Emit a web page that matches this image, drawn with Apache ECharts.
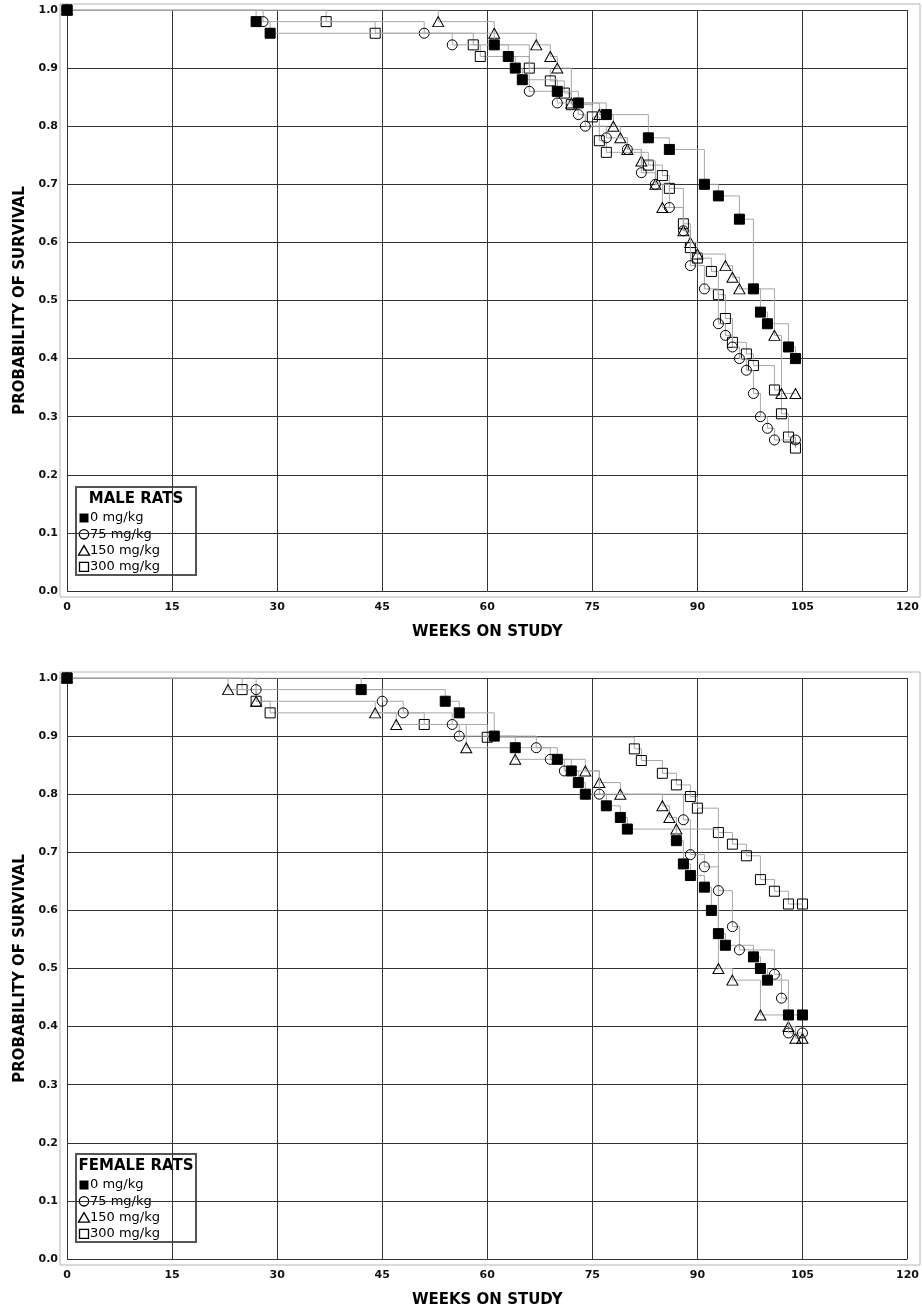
<!DOCTYPE html>
<html>
<head>
<meta charset="utf-8">
<title>Survival</title>
<script src="https://cdn.jsdelivr.net/npm/echarts@6/dist/echarts.min.js"></script>
<style>
  html, body { margin: 0; padding: 0; background: #fff; }
  #main { width: 922px; height: 1312px; }
</style>
</head>
<body>
<div id="main"></div>
<script>
// dose groups (legend order)
var doseNames = ['0 mg/kg', '75 mg/kg', '150 mg/kg', '300 mg/kg'];

// male rats: [week, probability of survival]
var male0 = [[0, 1.0], [27, 0.98], [29, 0.96], [61, 0.94], [63, 0.92], [64, 0.90], [65, 0.88], [70, 0.86], [73, 0.84], [77, 0.82], [83, 0.78], [86, 0.76], [91, 0.70], [93, 0.68], [96, 0.64], [98, 0.52], [99, 0.48], [100, 0.46], [103, 0.42], [104, 0.40]];
var male75 = [[0, 1.0], [28, 0.98], [51, 0.96], [55, 0.94], [66, 0.86], [70, 0.84], [73, 0.82], [74, 0.80], [77, 0.78], [80, 0.76], [82, 0.72], [84, 0.70], [86, 0.66], [88, 0.62], [89, 0.56], [91, 0.52], [93, 0.46], [94, 0.44], [95, 0.42], [96, 0.40], [97, 0.38], [98, 0.34], [99, 0.30], [100, 0.28], [101, 0.26], [104, 0.26]];
var male150 = [[0, 1.0], [53, 0.98], [61, 0.96], [67, 0.94], [69, 0.92], [70, 0.90], [72, 0.84], [76, 0.82], [78, 0.80], [79, 0.78], [80, 0.76], [82, 0.74], [84, 0.70], [85, 0.66], [88, 0.62], [89, 0.60], [90, 0.58], [94, 0.56], [95, 0.54], [96, 0.52], [101, 0.44], [102, 0.34], [104, 0.34]];
var male300 = [[0, 1.0], [37, 0.98], [44, 0.96], [58, 0.94], [59, 0.92], [66, 0.90], [69, 0.878], [71, 0.857], [72, 0.837], [75, 0.816], [76, 0.775], [77, 0.755], [83, 0.733], [85, 0.715], [86, 0.693], [88, 0.632], [89, 0.591], [90, 0.573], [92, 0.55], [93, 0.51], [94, 0.469], [95, 0.428], [97, 0.408], [98, 0.388], [101, 0.346], [102, 0.305], [103, 0.265], [104, 0.246]];

// female rats
var female0 = [[0, 1.0], [42, 0.98], [54, 0.96], [56, 0.94], [61, 0.90], [64, 0.88], [70, 0.86], [72, 0.84], [73, 0.82], [74, 0.80], [77, 0.78], [79, 0.76], [80, 0.74], [87, 0.72], [88, 0.68], [89, 0.66], [91, 0.64], [92, 0.60], [93, 0.56], [94, 0.54], [98, 0.52], [99, 0.50], [100, 0.48], [103, 0.42], [105, 0.42]];
var female75 = [[0, 1.0], [27, 0.98], [45, 0.96], [48, 0.94], [55, 0.92], [56, 0.90], [67, 0.88], [69, 0.86], [71, 0.84], [76, 0.80], [88, 0.756], [89, 0.696], [91, 0.675], [93, 0.634], [95, 0.572], [96, 0.532], [101, 0.49], [102, 0.449], [103, 0.389], [105, 0.389]];
var female150 = [[0, 1.0], [23, 0.98], [27, 0.96], [44, 0.94], [47, 0.92], [57, 0.88], [64, 0.86], [74, 0.84], [76, 0.82], [79, 0.80], [85, 0.78], [86, 0.76], [87, 0.74], [93, 0.50], [95, 0.48], [99, 0.42], [103, 0.40], [104, 0.38], [105, 0.38]];
var female300 = [[0, 1.0], [25, 0.98], [27, 0.96], [29, 0.94], [51, 0.92], [60, 0.898], [81, 0.878], [82, 0.858], [85, 0.836], [87, 0.816], [89, 0.796], [90, 0.776], [93, 0.734], [95, 0.714], [97, 0.694], [99, 0.653], [101, 0.633], [103, 0.611], [105, 0.611]];

var maleData = [male0, male75, male150, male300];
var femaleData = [female0, female75, female150, female300];

window.onload = function () {
    var myChart = echarts.init(document.getElementById('main'), null, { renderer: 'canvas' });

    var font = 'DejaVu Sans';
    // marker per dose: filled square, open circle, open triangle, open square
    var symbols = ['rect', 'circle', 'triangle', 'rect'];
    var symSizes = [10, 10, [11, 10], 10];
    var fills = ['#000', 'rgba(255,255,255,0)', 'rgba(255,255,255,0)', 'rgba(255,255,255,0)'];

    var plotTops = [10, 678];
    var plotH = 581;

    function xAxisFor(i) {
        return {
            gridIndex: i, type: 'value', min: 0, max: 120, interval: 15,
            axisLine: { show: false }, axisTick: { show: false },
            splitLine: { show: true, lineStyle: { color: '#333', width: 1 } },
            axisLabel: { fontFamily: font, fontWeight: 'bold', fontSize: 11, color: '#111', margin: 11 },
            name: 'WEEKS ON STUDY', nameLocation: 'middle', nameGap: 34,
            nameTextStyle: { fontFamily: font, fontWeight: 'bold', fontSize: 15, color: '#000' }
        };
    }
    function yAxisFor(i) {
        return {
            gridIndex: i, type: 'value', min: 0, max: 1, interval: 0.1,
            axisLine: { show: false }, axisTick: { show: false },
            splitLine: { show: true, lineStyle: { color: '#333', width: 1 } },
            axisLabel: {
                fontFamily: font, fontWeight: 'bold', fontSize: 11, color: '#111', margin: 9,
                formatter: function (v) { return v.toFixed(1); }
            },
            name: 'PROBABILITY OF SURVIVAL', nameLocation: 'middle', nameGap: 37,
            nameTextStyle: { fontFamily: font, fontWeight: 'bold', fontSize: 15, color: '#000' }
        };
    }

    var series = [];
    [maleData, femaleData].forEach(function (groups, gi) {
        // draw the control group last so its filled squares sit on top
        [3, 2, 1, 0].forEach(function (k) {
            series.push({
                name: doseNames[k],
                type: 'line',
                step: 'end',
                xAxisIndex: gi, yAxisIndex: gi,
                data: groups[k],
                symbol: symbols[k],
                symbolSize: symSizes[k],
                showAllSymbol: true,
                lineStyle: { color: '#a8a8a8', width: 1 },
                itemStyle: { color: fills[k], borderColor: '#000', borderWidth: 1 },
                emphasis: { disabled: true },
                z: 3 + (3 - k)
            });
        });
    });

    // legend box drawn as graphic, one per panel
    function legendBox(title, top) {
        var left = 76, ys = [31, 47.3, 63.6, 79.8];
        var children = [{
            type: 'rect', shape: { x: left, y: top, width: 120, height: 88 },
            style: { fill: '#fff', stroke: '#555', lineWidth: 2 }
        }, {
            type: 'text', x: left + 60, y: top + 12,
            style: { text: title, font: 'bold 15px "DejaVu Sans"', fill: '#000', align: 'center', verticalAlign: 'middle' }
        }];
        var cx = left + 8;
        ys.forEach(function (dy, k) {
            var cy = top + dy;
            if (k === 0) {
                children.push({ type: 'rect', shape: { x: cx - 4.5, y: cy - 4.5, width: 9, height: 9 }, style: { fill: '#000' } });
            } else if (k === 1) {
                children.push({ type: 'circle', shape: { cx: cx, cy: cy, r: 4.7 }, style: { fill: 'none', stroke: '#000', lineWidth: 1.3 } });
            } else if (k === 2) {
                children.push({ type: 'polygon', shape: { points: [[cx, cy - 5], [cx + 5.5, cy + 4.5], [cx - 5.5, cy + 4.5]] }, style: { fill: 'none', stroke: '#000', lineWidth: 1.3 } });
            } else {
                children.push({ type: 'rect', shape: { x: cx - 4.5, y: cy - 4.5, width: 9, height: 9 }, style: { fill: 'none', stroke: '#000', lineWidth: 1.3 } });
            }
            children.push({
                type: 'text', x: cx + 6, y: cy,
                style: { text: doseNames[k], font: '13px "DejaVu Sans"', fill: '#000', verticalAlign: 'middle' }
            });
        });
        return { type: 'group', z: 100, children: children };
    }

    function frame(top) {
        return {
            type: 'rect', z: -1, silent: true,
            shape: { x: 60, y: top - 6, width: 860, height: plotH + 12 },
            style: { fill: 'none', stroke: '#b4b4b4', lineWidth: 1 }
        };
    }

    var option = {
        animation: false,
        backgroundColor: '#fff',
        grid: [
            { left: 67, top: plotTops[0], width: 842, height: plotH },
            { left: 67, top: plotTops[1], width: 842, height: plotH }
        ],
        xAxis: [xAxisFor(0), xAxisFor(1)],
        yAxis: [yAxisFor(0), yAxisFor(1)],
        series: series,
        graphic: [
            frame(plotTops[0]), frame(plotTops[1]),
            legendBox('MALE RATS', 487),
            legendBox('FEMALE RATS', 1154)
        ]
    };

    myChart.setOption(option);
};
</script>
</body>
</html>
